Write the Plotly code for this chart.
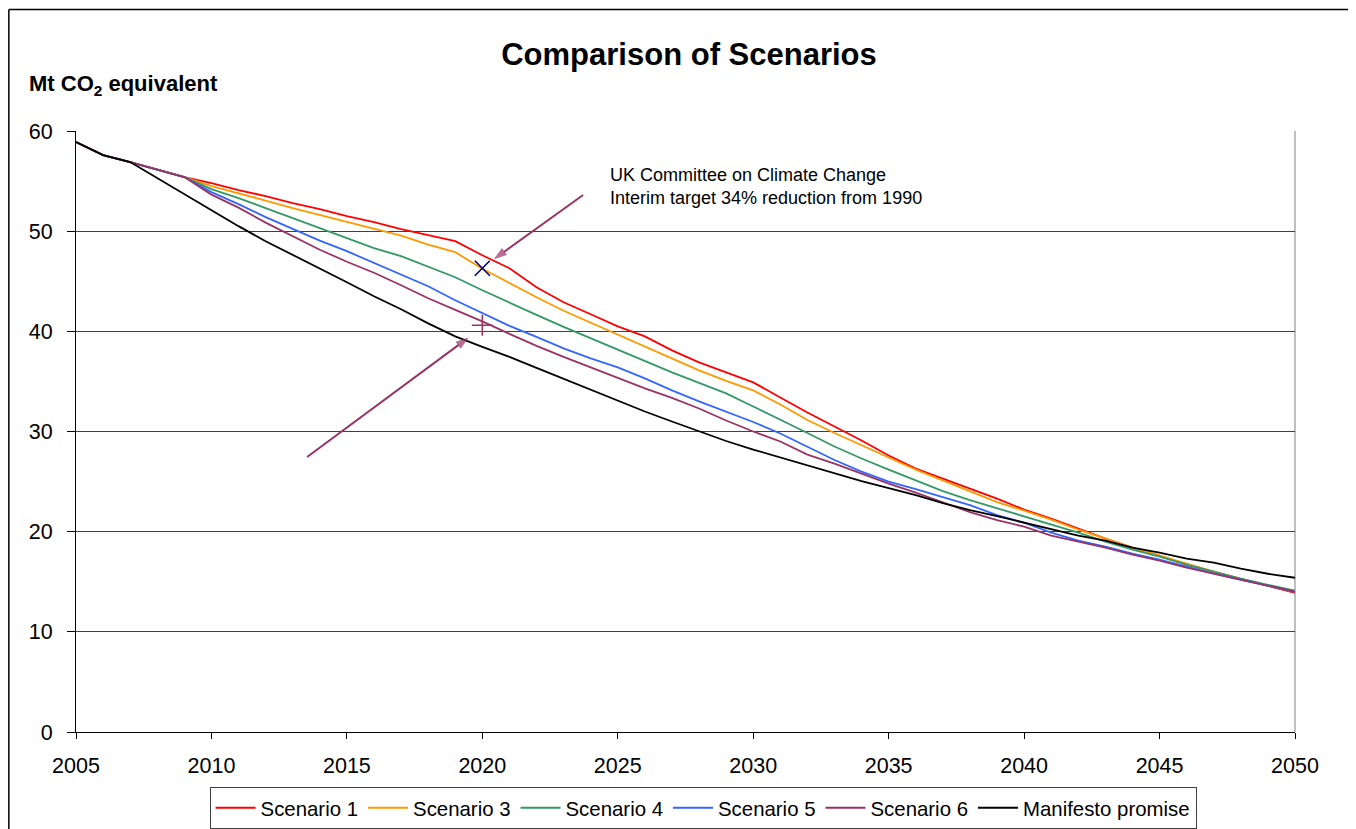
import plotly.graph_objects as go

years = [2005, 2006, 2007, 2008, 2009, 2010, 2011, 2012, 2013, 2014,
         2015, 2016, 2017, 2018, 2019, 2020, 2021, 2022, 2023, 2024,
         2025, 2026, 2027, 2028, 2029, 2030, 2031, 2032, 2033, 2034,
         2035, 2036, 2037, 2038, 2039, 2040, 2041, 2042, 2043, 2044,
         2045, 2046, 2047, 2048, 2049, 2050]

scenario1 = [58.9, 57.6, 56.9, 56.15, 55.4, 54.8, 54.1, 53.5, 52.8, 52.2,
             51.5, 50.9, 50.2, 49.6, 49.0, 47.6, 46.3, 44.4, 42.9, 41.7,
             40.5, 39.5, 38.1, 36.9, 35.9, 34.9, 33.4, 31.9, 30.5, 29.1,
             27.6, 26.3, 25.3, 24.3, 23.3, 22.2, 21.3, 20.3, 19.3, 18.4,
             17.6, 16.7, 16.0, 15.3, 14.6, 13.9]
scenario3 = [58.9, 57.6, 56.9, 56.15, 55.4, 54.5, 53.8, 53.05, 52.3, 51.6,
             50.9, 50.2, 49.55, 48.65, 47.9, 46.25, 44.8, 43.4, 42.05, 40.85,
             39.65, 38.5, 37.3, 36.1, 35.05, 34.1, 32.7, 31.15, 29.85, 28.6,
             27.4, 26.2, 25.1, 24.05, 22.95, 22.1, 21.2, 20.2, 19.3, 18.4,
             17.6, 16.8, 16.0, 15.3, 14.6, 14.0]
scenario4 = [58.9, 57.6, 56.9, 56.15, 55.4, 54.2, 53.3, 52.3, 51.3, 50.25,
             49.25, 48.3, 47.5, 46.45, 45.4, 44.1, 42.85, 41.65, 40.45, 39.3,
             38.2, 37.0, 35.9, 34.85, 33.8, 32.5, 31.2, 29.85, 28.5, 27.3,
             26.2, 25.1, 24.05, 23.15, 22.35, 21.55, 20.7, 19.9, 19.0, 18.2,
             17.5, 16.7, 16.0, 15.3, 14.7, 14.1]
scenario5 = [58.9, 57.6, 56.9, 56.15, 55.4, 53.9, 52.7, 51.4, 50.2, 49.05,
             48.0, 46.85, 45.65, 44.5, 43.1, 41.8, 40.55, 39.45, 38.3, 37.3,
             36.4, 35.3, 34.1, 33.0, 31.95, 30.95, 29.8, 28.45, 27.15, 26.0,
             25.0, 24.25, 23.45, 22.65, 21.65, 20.9, 19.9, 19.1, 18.5, 17.8,
             17.2, 16.5, 15.8, 15.2, 14.6, 14.0]
scenario6 = [58.9, 57.6, 56.9, 56.15, 55.4, 53.65, 52.35, 50.85, 49.5, 48.15,
             46.95, 45.85, 44.6, 43.3, 42.15, 41.0, 39.75, 38.55, 37.45, 36.4,
             35.4, 34.3, 33.35, 32.3, 31.1, 30.0, 29.0, 27.7, 26.8, 25.8,
             24.8, 23.9, 22.95, 21.95, 21.15, 20.5, 19.6, 19.0, 18.4, 17.7,
             17.1, 16.4, 15.8, 15.2, 14.6, 14.0]
manifesto = [58.9, 57.6, 56.9, 55.3, 53.7, 52.05, 50.5, 49.0, 47.65, 46.3,
             44.9, 43.5, 42.2, 40.8, 39.5, 38.45, 37.45, 36.35, 35.25, 34.15,
             33.1, 32.0, 31.0, 30.05, 29.05, 28.2, 27.4, 26.6, 25.8, 25.05,
             24.35, 23.65, 22.85, 22.15, 21.55, 20.9, 20.2, 19.6, 19.1, 18.4,
             17.9, 17.3, 16.9, 16.3, 15.8, 15.4]

series_names = ["Scenario 1", "Scenario 3", "Scenario 4", "Scenario 5",
                "Scenario 6", "Manifesto promise"]
series_colors = ["#FF0000", "#FF9900", "#339966", "#3366FF", "#993366", "#000000"]
series_values = [scenario1, scenario3, scenario4, scenario5, scenario6, manifesto]

target_year = [2020]
interim_target = [46.3]     # 34% reduction from 1990
intended_target = [40.6]    # 42% reduction from 1990

# callout arrows: [tail, head]
arrow1_x = [2023.72, 2020.42]
arrow1_y = [53.61, 47.19]
arrow2_x = [2013.53, 2019.5]
arrow2_y = [27.45, 39.4]

x_ticks = [2005, 2010, 2015, 2020, 2025, 2030, 2035, 2040, 2045, 2050]
y_ticks = [0, 10, 20, 30, 40, 50, 60]

FONT = "Liberation Sans, Arial, sans-serif"
PURPLE = "#993366"

fig = go.Figure()
for name, color, vals in zip(series_names, series_colors, series_values):
    fig.add_trace(go.Scatter(x=years, y=vals, mode="lines", name=name,
                             line=dict(color=color, width=1.8)))

fig.add_trace(go.Scatter(x=target_year, y=interim_target, mode="markers",
                         showlegend=False, hoverinfo="skip",
                         marker=dict(symbol="x-thin-open", size=15, color="#000080",
                                     line=dict(color="#000080", width=1.6))))
fig.add_trace(go.Scatter(x=target_year, y=intended_target, mode="markers",
                         showlegend=False, hoverinfo="skip",
                         marker=dict(symbol="cross-thin-open", size=15, color=PURPLE,
                                     line=dict(color=PURPLE, width=1.6))))

for ax_, ay_ in [(arrow1_x, arrow1_y), (arrow2_x, arrow2_y)]:
    fig.add_trace(go.Scatter(x=ax_, y=ay_, mode="lines+markers", showlegend=False,
                             hoverinfo="skip", line=dict(color=PURPLE, width=2),
                             marker=dict(symbol=["circle", "arrow"], size=[0, 14],
                                         angleref="previous", color=PURPLE,
                                         line=dict(width=0))))

# annotation texts
fig.add_annotation(x=2024.65, y=56.8, xref="x", yref="y", showarrow=False,
                   xanchor="left", yanchor="top", align="left",
                   text="UK Committee on Climate Change<br>Interim target 34% reduction from 1990",
                   font=dict(family=FONT, size=18, color="#000000"))
fig.add_annotation(x=2004.48, y=27.55, xref="x", yref="y", showarrow=False,
                   xanchor="left", yanchor="top", align="left",
                   text="UK Committee on Climate Change<br>Intended target 42% reduction from 1990",
                   font=dict(family=FONT, size=18, color="#000000"))

# y axis title
fig.add_annotation(x=-0.0402, y=1.0765, xref="paper", yref="paper", showarrow=False,
                   xanchor="left", yanchor="middle",
                   text="<b>Mt CO<sub>2</sub> equivalent</b>",
                   font=dict(family=FONT, size=22, color="#000000"))

# right plot border
fig.add_shape(type="line", xref="paper", yref="paper", x0=1, x1=1, y0=0, y1=1,
              line=dict(color="#BFBFBF", width=2), layer="below")
# outer chart border (left and top edges; right/bottom lie outside the view)
fig.add_shape(type="line", xref="paper", yref="paper",
              x0=-0.0551, x1=-0.0551, y0=-0.19, y1=1.2022,
              line=dict(color="#000000", width=1.5))
fig.add_shape(type="line", xref="paper", yref="paper",
              x0=-0.0551, x1=1.07, y0=1.2022, y1=1.2022,
              line=dict(color="#000000", width=1.5))

W, H = 1348, 821
fig.update_layout(
    width=W, height=H,
    margin=dict(l=68, r=61, t=123, b=97, autoexpand=False),
    paper_bgcolor="white", plot_bgcolor="white",
    font=dict(family=FONT, color="#000000"),
    title=dict(text="<b>Comparison of Scenarios</b>", x=681 / W, xref="container",
               y=1 - 46 / H, yref="container", xanchor="center", yanchor="middle",
               font=dict(family=FONT, size=31, color="#000000")),
    showlegend=True,
    legend=dict(orientation="h", x=0.5144, xanchor="center", y=-0.0915, yanchor="top",
                font=dict(family=FONT, size=20.4, color="#000000"),
                bordercolor="#404040", borderwidth=1, bgcolor="white",
                itemwidth=40, traceorder="normal"),
)
fig.update_xaxes(range=[2005, 2050], tickvals=x_ticks, ticks="outside", ticklen=6,
                 tickcolor="#000000", showline=True, linecolor="#000000", linewidth=1,
                 showgrid=False, zeroline=False, ticklabelstandoff=8,
                 tickfont=dict(family=FONT, size=21.5, color="#000000"))
fig.update_yaxes(range=[0, 60], tickvals=y_ticks, ticks="outside", ticklen=8,
                 tickcolor="#000000", showline=True, linecolor="#000000", linewidth=1,
                 showgrid=True, gridcolor="#404040", gridwidth=1, zeroline=False,
                 ticklabelstandoff=10,
                 tickfont=dict(family=FONT, size=21.5, color="#000000"))

fig.write_html("out.html")
